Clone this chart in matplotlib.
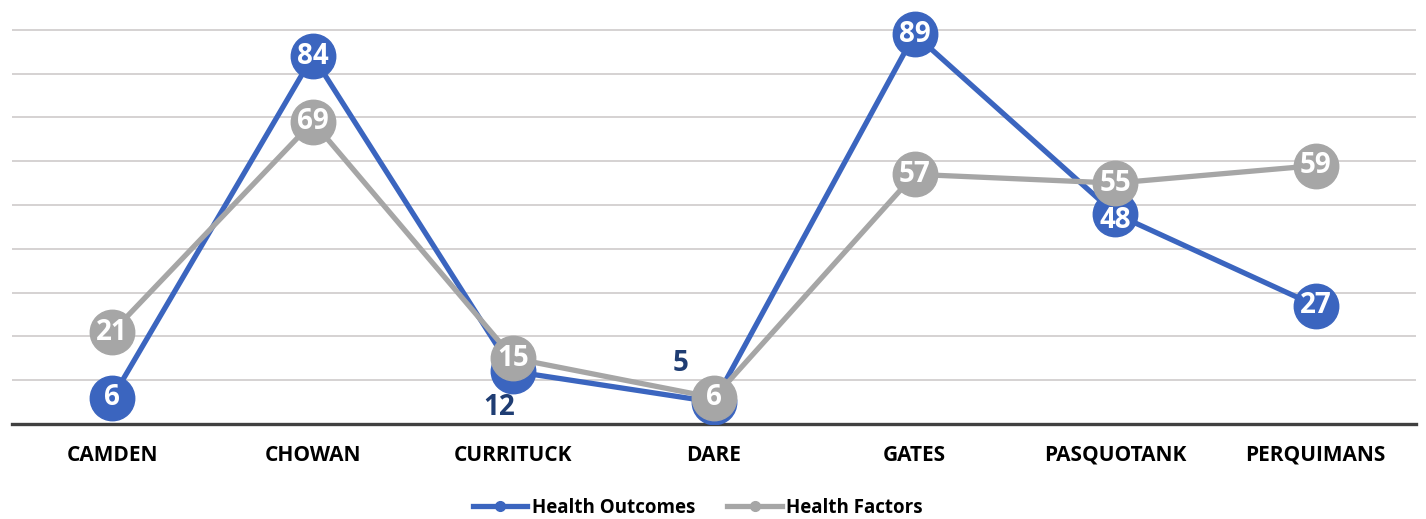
import matplotlib.pyplot as plt
from matplotlib.lines import Line2D

counties = ['CAMDEN', 'CHOWAN', 'CURRITUCK', 'DARE', 'GATES', 'PASQUOTANK', 'PERQUIMANS']
outcomes = [6, 84, 12, 5, 89, 48, 27]
factors = [21, 69, 15, 6, 57, 55, 59]

blue = '#3b65bf'
gray = '#a6a6a6'
dark_blue = '#1f3d73'

plt.rcParams['font.family'] = ['Open Sans', 'DejaVu Sans']

fig = plt.figure(figsize=(14.26, 5.19), dpi=100)
ax = fig.add_axes([12 / 1426, 95 / 519, 1404 / 1426, 424 / 519])

x = list(range(len(counties)))

ax.plot(x, outcomes, color=blue, lw=3.8, marker='o', ms=32, zorder=3,
        label='Health Outcomes')
ax.plot(x, factors, color=gray, lw=3.8, marker='o', ms=32, zorder=4,
        label='Health Factors')

lbl = dict(ha='center', va='center', fontsize=20, fontweight='bold', zorder=6)

# data labels
for i, v in enumerate(outcomes):
    if counties[i] == 'CURRITUCK':
        ax.annotate(str(v), (i, v), xytext=(-10, -26), textcoords='offset points',
                    color=dark_blue, **lbl)
    elif counties[i] == 'DARE':
        ax.annotate(str(v), (i, v), xytext=(-24, 28), textcoords='offset points',
                    color=dark_blue, **lbl)
    elif counties[i] == 'PASQUOTANK':
        ax.annotate(str(v), (i, v), xytext=(0, -5), textcoords='offset points',
                    color='white', **lbl)
    else:
        ax.annotate(str(v), (i, v), color='white', **lbl)

for i, v in enumerate(factors):
    ax.annotate(str(v), (i, v), color='white', **lbl)

ax.set_xlim(-0.5, len(counties) - 0.5)
ax.set_ylim(0, 96.8)
ax.set_yticks(range(10, 100, 10))
ax.yaxis.grid(True, color='#d2cfcf', lw=1.3)
ax.set_axisbelow(True)
ax.tick_params(axis='y', left=False, labelleft=False)
ax.set_xticks(x)
ax.set_xticklabels(counties, fontsize=15, fontweight='bold')
ax.tick_params(axis='x', length=0, pad=15)

for s in ['top', 'left', 'right']:
    ax.spines[s].set_visible(False)
ax.spines['bottom'].set_color('#404040')
ax.spines['bottom'].set_linewidth(2.4)
ax.spines['bottom'].set_zorder(2)

labels = ['Health Outcomes', 'Health Factors']
handles = [Line2D([], [], color=blue, lw=3.8, marker='o', ms=7),
           Line2D([], [], color=gray, lw=3.8, marker='o', ms=7)]
fig.legend(handles, labels, loc='center', bbox_to_anchor=(698 / 1426, 1 - 508 / 519),
           ncol=2, frameon=False, prop={'weight': 'bold', 'size': 13.5},
           handlelength=2.9, columnspacing=1.7, handletextpad=0.25)

fig.savefig('out.png', dpi=100)
